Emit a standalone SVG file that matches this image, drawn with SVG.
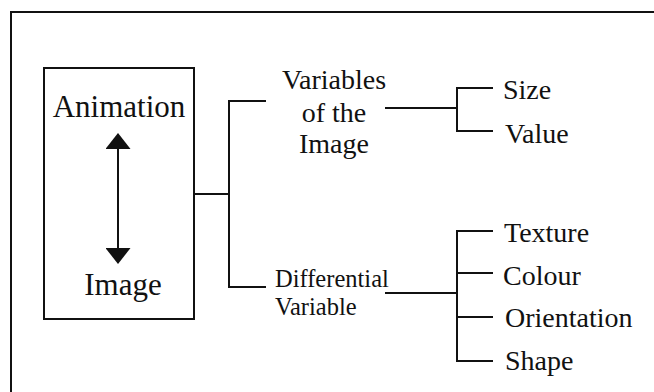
<svg xmlns="http://www.w3.org/2000/svg" width="654" height="392" viewBox="0 0 654 392">
  <style>
    .ln { fill: none; stroke: #111; stroke-width: 2; }
    .box { fill: #fff; stroke: #111; stroke-width: 2; }
    text { font-family: 'Times New Roman', serif; fill: #111; }
    .big { font-size: 31px; }
    .mid { font-size: 28px; }
    .sm { font-size: 24.5px; }
  </style>
  <defs>
    <marker id="head" viewBox="0 0 16 25" refX="14" refY="12.5" markerWidth="16" markerHeight="25" markerUnits="userSpaceOnUse" orient="auto-start-reverse">
      <path d="M0,0 L16,12.5 L0,25 Z" fill="#111"/>
    </marker>
  </defs>

  <rect width="654" height="392" fill="#fff"/>
  <!-- outer frame (top and left edges only) -->
  <polyline class="ln" points="11,392 11,12 654,12"/>

  <g id="animation-image">
    <rect class="box" x="44" y="68" width="150" height="251"/>
    <text class="big" x="119" y="117" text-anchor="middle">Animation</text>
    <text class="big" x="123" y="295" text-anchor="middle">Image</text>
    <line class="ln" x1="118" y1="135" x2="118" y2="262" marker-start="url(#head)" marker-end="url(#head)"/>
  </g>

  <g id="variables-image">
    <text class="mid" x="334" y="89" text-anchor="middle">Variables</text>
    <text class="mid" x="334" y="122" text-anchor="middle">of the</text>
    <text class="mid" x="334" y="153" text-anchor="middle">Image</text>
  </g>

  <g id="differential-variable">
    <text class="sm" x="275" y="287">Differential</text>
    <text class="sm" x="275" y="315">Variable</text>
  </g>

  <g id="size"><text class="mid" x="503" y="99">Size</text></g>
  <g id="value"><text class="mid" x="505" y="143">Value</text></g>
  <g id="texture"><text class="mid" x="504" y="242">Texture</text></g>
  <g id="colour"><text class="mid" x="503" y="285">Colour</text></g>
  <g id="orientation"><text class="mid" x="505" y="327">Orientation</text></g>
  <g id="shape"><text class="mid" x="505" y="370">Shape</text></g>

  <g id="connectors">
    <polyline class="ln" points="194,194 229,194"/>
    <polyline class="ln" points="266,101 229,101 229,287 266,287"/>
    <line class="ln" x1="385" y1="108" x2="457" y2="108"/>
    <polyline class="ln" points="493,88 457,88 457,131 493,131"/>
    <line class="ln" x1="385" y1="293" x2="457" y2="293"/>
    <polyline class="ln" points="493,231 457,231 457,361 493,361"/>
    <line class="ln" x1="457" y1="273" x2="493" y2="273"/>
    <line class="ln" x1="457" y1="317" x2="493" y2="317"/>
  </g>
</svg>
